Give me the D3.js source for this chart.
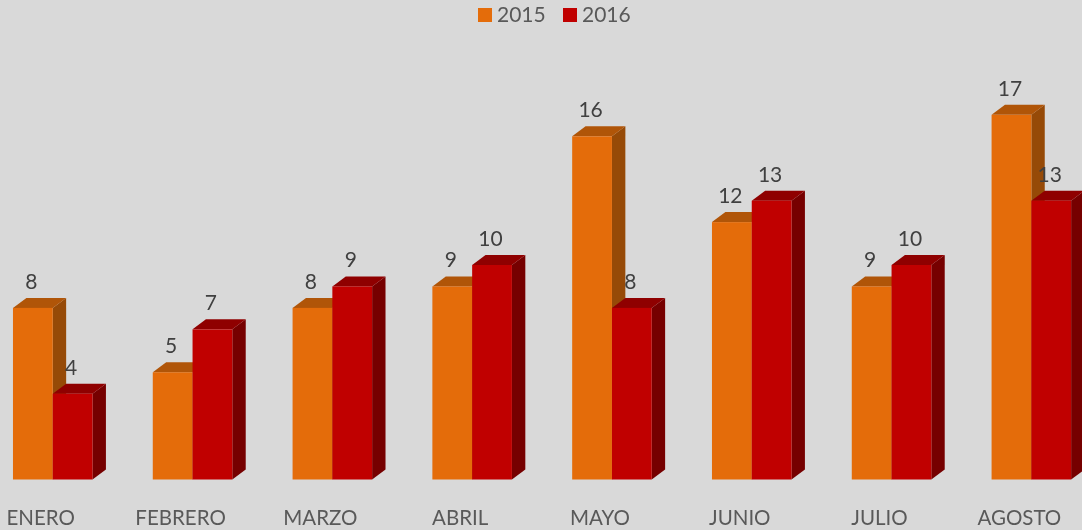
<!DOCTYPE html>
<html>
<head>
<meta charset="utf-8">
<script src="https://cdn.jsdelivr.net/npm/d3@7"></script>
<style>
  html, body { margin: 0; padding: 0; background: #d9d9d9; overflow: hidden; }
  text { font-family: Lato, "Open Sans", sans-serif; }
  .chart { display: block; filter: blur(0.4px); }
</style>
</head>
<body>
<svg class="chart"></svg>
<script>
var months = ['ENERO', 'FEBRERO', 'MARZO', 'ABRIL', 'MAYO', 'JUNIO', 'JULIO', 'AGOSTO'];
var seriesNames = ['2015', '2016'];
var values2015 = [8, 5, 8, 9, 16, 12, 9, 17];
var values2016 = [4, 7, 9, 10, 8, 13, 10, 13];

var width = 1082, height = 530;
var baseline = 479.5;
var depthX = 13.4, depthY = 10;

var colors = {
  '2015': { front: '#e46c0a', top: '#b05508', side: '#964a07' },
  '2016': { front: '#c00000', top: '#8f0000', side: '#760000' }
};

var chart = d3.select('.chart')
    .attr('width', width)
    .attr('height', height);

var x = d3.scaleBand()
    .domain(months)
    .range([-17.15, 1101.25])
    .paddingInner(0.431)
    .paddingOuter(0.2155);

var x1 = d3.scaleBand()
    .domain(seriesNames)
    .range([0, x.bandwidth()]);

var y = d3.scaleLinear()
    .domain([0, 17])
    .range([baseline, baseline - 17 * 21.45]);

var rows = [];
months.forEach(function(m, i) {
  rows.push({ month: m, series: '2015', value: values2015[i] });
  rows.push({ month: m, series: '2016', value: values2016[i] });
});

function pts(list) {
  return list.map(function(p) { return p.join(','); }).join(' ');
}

var bar = chart.selectAll('.bar')
    .data(rows)
    .enter().append('g')
    .attr('class', 'bar')
    .attr('transform', function(d) { return `translate(${x(d.month) + x1(d.series)}, 0)`; });

// side and top faces first, front face over them
bar.append('polygon')
    .attr('fill', function(d) { return colors[d.series].side; })
    .attr('points', function(d) {
      var w = x1.bandwidth();
      return pts([[w, y(d.value)], [w + depthX, y(d.value) - depthY], [w + depthX, baseline - depthY], [w, baseline]]);
    });

bar.append('polygon')
    .attr('fill', function(d) { return colors[d.series].top; })
    .attr('points', function(d) {
      var w = x1.bandwidth();
      return pts([[0, y(d.value)], [depthX, y(d.value) - depthY], [w + depthX, y(d.value) - depthY], [w, y(d.value)]]);
    });

bar.append('rect')
    .attr('y', function(d) { return y(d.value); })
    .attr('width', x1.bandwidth())
    .attr('height', function(d) { return baseline - y(d.value); })
    .attr('fill', function(d) { return colors[d.series].front; });

chart.selectAll('.value')
    .data(rows)
    .enter().append('text')
    .attr('class', 'value')
    .attr('x', function(d) { return x(d.month) + x1(d.series) + x1.bandwidth() / 2 - 1.5; })
    .attr('y', function(d) { return y(d.value) - 19; })
    .attr('text-anchor', 'middle')
    .attr('font-size', 21)
    .attr('fill', '#404040')
    .text(function(d) { return d.value; });

var x_axis = d3.axisBottom(x).tickSize(0).tickPadding(0);

var axis = chart.append('g')
    .attr('transform', 'translate(-12, 510)')
    .call(x_axis);
axis.select('.domain').remove();
axis.selectAll('text')
    .attr('dy', '0.71em')
    .attr('font-size', 20.5)
    .attr('font-family', 'Lato, "Open Sans", sans-serif')
    .attr('fill', '#595959');

var legendX = d3.scaleOrdinal().domain(seriesNames).range([478, 563]);

var legend = chart.selectAll('.legend')
    .data(seriesNames)
    .enter().append('g')
    .attr('class', 'legend')
    .attr('transform', function(d) { return `translate(${legendX(d)}, 8)`; });

legend.append('rect')
    .attr('width', 14)
    .attr('height', 14)
    .attr('fill', function(d) { return colors[d].front; });

legend.append('text')
    .attr('x', 19)
    .attr('y', 14)
    .attr('font-size', 21)
    .attr('fill', '#595959')
    .text(function(d) { return d; });
</script>
</body>
</html>
